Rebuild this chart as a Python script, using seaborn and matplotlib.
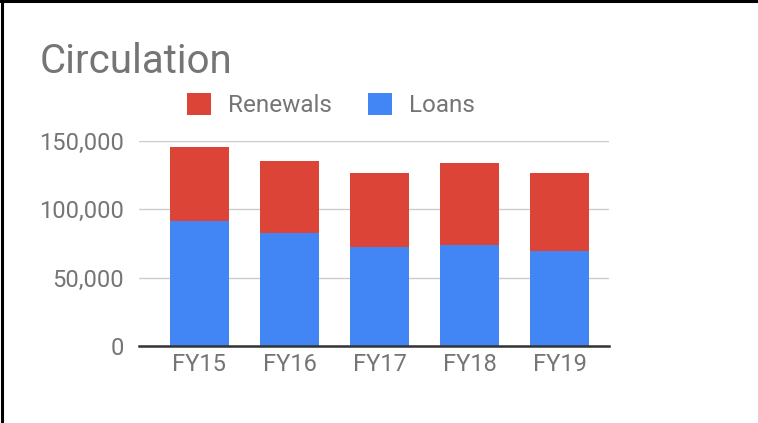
import matplotlib
matplotlib.use("Agg")
import matplotlib.pyplot as plt
import seaborn as sns
import pandas as pd
from matplotlib.patches import Patch
from matplotlib.lines import Line2D

years = ["FY15", "FY16", "FY17", "FY18", "FY19"]
loans = [91500, 82500, 72200, 73700, 69300]
renewals = [54300, 52900, 54400, 60400, 57300]
yticks = [0, 50000, 100000, 150000]
ytick_labels = ["0", "50,000", "100,000", "150,000"]

RED = "#db4437"
BLUE = "#4285f4"
GREY = "#757575"

sns.set_theme(style="white")
plt.rcParams["font.family"] = ["Roboto", "DejaVu Sans"]

df = pd.DataFrame({"year": years, "loans": loans, "renewals": renewals})
df["total"] = df["loans"] + df["renewals"]

W, H = 758, 423
fig = plt.figure(figsize=(W / 100, H / 100), dpi=100)
ax = fig.add_axes([139 / W, 1 - 346 / H, (609 - 139) / W, (346 - 141) / H])

sns.barplot(data=df, x="year", y="total", color=RED, width=0.65, ax=ax,
            saturation=1, edgecolor="none", linewidth=0, zorder=3)
sns.barplot(data=df, x="year", y="loans", color=BLUE, width=0.65, ax=ax,
            saturation=1, edgecolor="none", linewidth=0, zorder=3)

ax.set_ylim(0, 150000)
ax.set_xlim(-0.672, 4.55)
ax.set_yticks(yticks)
ax.set_yticklabels(ytick_labels)
ax.set_xlabel("")
ax.set_ylabel("")
for s in ["top", "right", "left"]:
    ax.spines[s].set_visible(False)
ax.spines["bottom"].set_color("#333333")
ax.spines["bottom"].set_linewidth(1.8)
ax.spines["bottom"].set_zorder(5)
ax.yaxis.grid(True, color="#cccccc", linewidth=1)
ax.set_axisbelow(True)
ax.tick_params(axis="both", length=0, labelsize=17, labelcolor=GREY)
ax.tick_params(axis="y", pad=11)
ax.tick_params(axis="x", pad=5)

fig.text(40 / W, 1 - 73 / H, "Circulation", fontsize=29, color=GREY,
         ha="left", va="baseline")

handles = [Patch(facecolor=RED, edgecolor="none", label="Renewals"),
           Patch(facecolor=BLUE, edgecolor="none", label="Loans")]
fig.legend(handles=handles, loc="center left",
           bbox_to_anchor=(187 / W, 1 - 105 / H), ncol=2, frameon=False,
           fontsize=17.5, labelcolor=GREY, handlelength=1.0, handleheight=1.0,
           handletextpad=0.67, columnspacing=1.5, borderpad=0, borderaxespad=0)

fig.add_artist(Line2D([0, 1], [1 - 1.5 / H, 1 - 1.5 / H], color="black",
                      linewidth=2.2, transform=fig.transFigure))
fig.add_artist(Line2D([1.5 / W, 1.5 / W], [0, 1], color="black",
                      linewidth=2.2, transform=fig.transFigure))

fig.savefig("out.png", dpi=100, facecolor="white")
